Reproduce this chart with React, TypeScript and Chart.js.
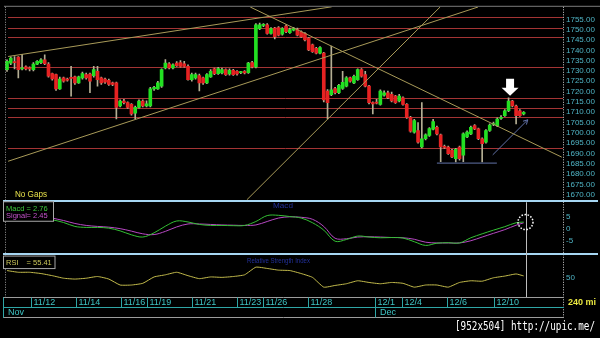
import React, { useEffect, useRef } from "react";
import { Chart, registerables } from "chart.js";
Chart.register(...registerables);

// ---- price data (240-minute bars) ----
const opens = [1730.6,1733.8,1734.5,1736.7,1731.0,1732.0,1731.2,1730.6,1733.3,1734.0,
1735.4,1733.3,1728.7,1728.2,1721.3,1726.6,1726.0,1726.8,1727.1,1724.2,
1726.6,1728.2,1728.5,1727.7,1729.8,1726.6,1726.1,1725.5,1724.2,1724.2,
1713.0,1715.4,1714.6,1713.8,1709.5,1712.3,1715.4,1713.0,1713.0,1721.3,
1721.3,1722.6,1731.4,1733.5,1731.4,1733.8,1734.1,1733.5,1732.2,1725.8,
1726.6,1727.7,1726.6,1724.2,1727.1,1731.0,1728.7,1729.0,1730.6,1728.5,
1730.3,1729.8,1729.2,1729.8,1729.2,1734.1,1731.9,1750.5,1752.1,1752.4,
1748.2,1750.8,1751.0,1747.8,1751.7,1748.5,1749.8,1750.1,1749.0,1748.2,
1745.8,1742.6,1741.0,1738.6,1738.6,1720.2,1718.5,1721.5,1719.4,1721.5,
1722.6,1726.6,1724.2,1725.8,1730.6,1728.2,1722.6,1714.6,1714.8,1713.8,
1718.2,1719.4,1718.6,1717.8,1715.4,1717.0,1713.8,1707.5,1700.3,1701.1,
1693.1,1697.1,1698.7,1701.8,1702.7,1699.0,1693.3,1693.1,1691.5,1687.5,
1693.1,1689.1,1698.0,1699.5,1703.5,1701.9,1697.1,1695.5,1701.1,1704.0,
1703.5,1707.0,1708.3,1710.7,1715.4,1713.0,1710.7,1709.1];
const highs = [1735.4,1736.8,1737.0,1737.0,1738.0,1732.5,1732.0,1734.0,1735.0,1736.0,
1737.8,1734.0,1729.0,1728.5,1727.0,1727.0,1726.5,1732.2,1727.5,1727.5,
1729.5,1729.0,1729.0,1732.2,1732.2,1727.0,1726.5,1726.0,1724.6,1724.6,
1716.0,1716.2,1715.0,1714.2,1713.0,1716.0,1716.0,1715.5,1722.0,1722.5,
1725.0,1731.0,1735.5,1734.0,1733.5,1734.5,1735.0,1734.6,1733.0,1729.0,
1729.0,1728.5,1727.0,1728.7,1730.6,1731.4,1731.8,1731.4,1731.0,1731.0,
1730.8,1730.2,1729.8,1730.2,1734.2,1734.6,1753.0,1753.2,1753.0,1753.0,
1751.0,1751.2,1751.5,1751.0,1752.4,1750.8,1751.2,1750.8,1749.4,1748.6,
1746.2,1743.0,1741.4,1741.8,1739.0,1721.0,1742.0,1722.0,1723.5,1729.8,
1727.2,1727.0,1728.0,1731.0,1731.2,1729.8,1723.0,1715.0,1716.2,1720.8,
1720.4,1720.2,1719.8,1718.2,1718.6,1717.4,1714.2,1708.0,1706.5,1705.0,
1714.6,1699.5,1702.5,1706.5,1703.2,1699.4,1694.0,1693.6,1692.0,1692.5,
1693.6,1700.0,1701.0,1703.2,1704.0,1702.3,1697.5,1701.6,1704.3,1705.2,
1707.2,1708.3,1711.2,1717.0,1715.8,1713.4,1711.2,1710.3];
const lows = [1729.8,1733.0,1731.0,1726.6,1730.5,1730.5,1730.0,1730.0,1733.0,1733.5,
1733.0,1727.0,1725.5,1720.5,1721.0,1724.5,1725.0,1717.8,1723.5,1724.0,
1726.0,1726.0,1719.4,1727.0,1722.6,1723.5,1724.0,1723.0,1722.8,1706.7,
1712.5,1714.0,1711.8,1708.5,1706.7,1712.0,1712.5,1712.5,1712.5,1720.5,
1721.0,1722.0,1731.0,1731.0,1731.0,1732.2,1731.8,1731.8,1725.5,1725.0,
1726.0,1720.3,1723.5,1723.8,1726.8,1728.2,1728.3,1728.5,1727.8,1728.0,
1727.8,1728.0,1728.7,1728.6,1728.8,1731.5,1731.5,1750.0,1751.5,1747.8,
1747.8,1745.5,1747.0,1747.4,1748.5,1748.2,1749.4,1747.0,1746.2,1744.6,
1739.8,1739.0,1738.2,1738.2,1715.0,1706.7,1718.0,1718.8,1719.0,1721.0,
1722.2,1724.5,1723.8,1725.4,1727.0,1722.2,1714.0,1709.1,1714.0,1713.4,
1717.8,1716.6,1715.0,1714.2,1715.0,1713.4,1707.0,1700.3,1699.8,1695.0,
1692.7,1696.5,1698.3,1701.4,1699.0,1686.0,1692.4,1689.5,1687.9,1685.9,
1686.7,1686.0,1697.6,1699.1,1701.5,1696.7,1685.9,1695.0,1700.7,1703.5,
1703.0,1706.5,1707.9,1710.3,1712.6,1704.3,1707.9,1708.7];
const closes = [1734.6,1736.2,1734.0,1730.6,1731.5,1731.0,1731.0,1733.3,1734.6,1735.4,
1733.5,1727.4,1726.1,1721.3,1726.1,1725.0,1725.5,1726.4,1724.2,1727.1,
1728.7,1726.6,1725.0,1730.6,1725.8,1724.2,1724.5,1723.4,1723.4,1712.3,
1715.4,1714.6,1712.3,1709.1,1712.3,1715.4,1713.0,1714.0,1721.3,1722.0,
1724.2,1730.6,1733.8,1731.4,1733.0,1732.6,1732.2,1732.2,1725.8,1728.2,
1728.2,1724.2,1724.2,1728.2,1729.8,1728.7,1731.2,1730.6,1728.2,1730.3,
1728.2,1728.5,1729.4,1729.0,1733.8,1731.9,1752.4,1752.4,1752.3,1748.2,
1750.5,1746.6,1747.4,1750.5,1749.0,1750.1,1750.5,1747.4,1746.6,1745.0,
1740.2,1739.4,1738.6,1741.3,1716.0,1714.6,1720.8,1719.4,1723.0,1724.5,
1726.6,1725.0,1727.4,1730.6,1727.4,1722.6,1714.6,1714.0,1714.4,1720.2,
1719.4,1717.0,1715.4,1714.6,1717.8,1713.8,1707.5,1700.8,1705.9,1695.5,
1697.1,1699.0,1702.0,1705.4,1699.5,1693.1,1692.9,1689.9,1688.3,1692.0,
1687.5,1699.5,1700.3,1702.7,1701.9,1697.1,1694.7,1701.1,1703.8,1704.4,
1706.7,1707.5,1710.7,1715.4,1713.0,1708.3,1708.3,1709.9];

// ---- axis tick labels ----
const priceTicks = [1670,1675,1680,1685,1690,1695,1700,1705,1710,1715,1720,1725,1730,1735,1740,1745,1750,1755];
const macdTicks = [-5, 0, 5];
const rsiTicks = [50];
const dateLabels = ["11/12","11/14","11/16","11/19","11/21","11/23","11/26","11/28","12/1","12/4","12/6","12/10"];
const dateStartBars = [6.4, 18.3, 30.2, 37.1, 49.0, 60.9, 68.0, 79.7, 97.6, 104.7, 116.6, 129.2];
const monthLabels = ["Nov", "Dec"];
const monthStartBars = [-1.05, 97.6];
const intervalLabel = "240 mi";

// ---- drawing objects (bar index, price) ----
const levels = [1756, 1751, 1746.5, 1732, 1717, 1712, 1707.5, 1692.5];
const trendLines = [
  [[0.3, 1737.0], [86.1, 1761.1]],
  [[0.3, 1686.2], [124.9, 1761.0]],
  [[63.6, 1667.5], [114.9, 1761.1]],
  [[64.5, 1761.0], [147.1, 1688.2]],
];
const supportLine = [[114.0, 1685.3], [129.9, 1685.3]];
const upArrowLine = [[128.8, 1689.3], [138.1, 1706.3]];
const signalArrowTip = [133.4, 1718.0];
const cursorBar = 137.5;

// ---- indicators ----
const indBars = [0,3,6,9,12,15,18,21,24,27,30,33,36,39,42,45,48,51,54,57,60,63,66,69,72,75,78,81,84,87,90,93,96,99,102,105,108,111,114,117,120,123,126,129,132,135,137];
const macdVals = [7.0,6.5,5.5,4.6,3.7,2.6,1.0,0.6,0.6,0.3,-0.8,-2.4,-3.3,-1.6,1.1,3.2,2.8,1.8,1.4,1.4,1.3,1.4,3.0,5.4,5.5,5.0,4.4,2.5,-0.5,-5.0,-4.3,-2.9,-3.3,-3.6,-3.5,-3.7,-5.2,-6.7,-5.8,-5.6,-5.7,-3.6,-2.0,-0.5,0.9,2.5,2.76];
const signalVals = [7.5,7.2,6.6,5.8,4.4,3.4,2.2,1.4,1.0,0.7,0.1,-0.9,-2.0,-2.3,-1.0,0.8,2.0,2.0,1.8,1.6,1.5,1.4,1.6,3.0,4.4,4.9,4.7,3.9,1.0,-3.8,-4.0,-3.3,-3.2,-3.3,-3.5,-3.6,-4.2,-5.4,-5.7,-5.7,-5.7,-4.8,-3.3,-1.8,-0.3,1.5,2.45];
const rsiVals = [68,64,64,61,56,50,48,50,54,48,34,34,38,53,58,64,56,49,53,52,54,58,76,73,69,68,61,52,29,33,37,44,40,37,40,38,29,34,34,29,40,44,43,51,55,60,55.41];

const FONT = "'Liberation Sans', Arial, sans-serif";

function txt(ctx: CanvasRenderingContext2D, s: string, x: number, y: number, color: string, size: number, width?: number, bold?: boolean) {
  ctx.save();
  ctx.font = `${bold ? "bold " : ""}${size}px ${FONT}`;
  ctx.fillStyle = color;
  ctx.textBaseline = "middle";
  ctx.textAlign = "left";
  if (width) {
    const w = ctx.measureText(s).width;
    ctx.translate(x, y);
    ctx.scale(width / w, 1);
    ctx.fillText(s, 0, 0);
  } else {
    ctx.fillText(s, x, y);
  }
  ctx.restore();
}

function hline(ctx: CanvasRenderingContext2D, x0: number, x1: number, y: number, color: string, w = 1) {
  ctx.save();
  ctx.strokeStyle = color;
  ctx.lineWidth = w;
  ctx.beginPath();
  ctx.moveTo(x0, y);
  ctx.lineTo(x1, y);
  ctx.stroke();
  ctx.restore();
}
function vline(ctx: CanvasRenderingContext2D, x: number, y0: number, y1: number, color: string, dash?: number[]) {
  ctx.save();
  ctx.strokeStyle = color;
  ctx.lineWidth = 1;
  if (dash) ctx.setLineDash(dash);
  ctx.beginPath();
  ctx.moveTo(x, y0);
  ctx.lineTo(x, y1);
  ctx.stroke();
  ctx.restore();
}

export default function App() {
  const ref = useRef<HTMLCanvasElement>(null);
  useEffect(() => {
    document.body.style.margin = "0";
    document.body.style.background = "#000";
    const canvas = ref.current!;
    const up = "#22e022";
    const down = "#e62222";
    const bodyColors = opens.map((o, i) => (closes[i] >= o ? up : down));
    const trendColor = "#a89a58";
    const blueLine = "#6272a8";

    const overlay = {
      id: "overlay",
      beforeDatasetsDraw(chart: any) {
        const { ctx } = chart;
        const xs = chart.scales.x;
        const ys = chart.scales.y;
        for (const lv of levels) {
          const py = Math.round(ys.getPixelForValue(lv)) + 0.5;
          hline(ctx, xs.left + 3, xs.right - 1, py, "#a43434");
        }
      },
      afterDraw(chart: any) {
        const { ctx } = chart;
        const xs = chart.scales.x;
        const ys = chart.scales.y;
        const ms = chart.scales.macd;
        const rs = chart.scales.rsi;
        const top = ys.top;
        const bot = rs.bottom;
        const right = xs.right;

        // frame
        hline(ctx, 4, 600, top - 0.5, "#7c7c7c");
        vline(ctx, xs.left + 0.5, top, bot, "#9a9a9a", [1, 1.5]);
        vline(ctx, right - 0.5, top, bot + 21, "#cfcfcf", [1, 1.5]);

        // panel separators
        ctx.save();
        ctx.fillStyle = "#a6d6f2";
        ctx.fillRect(3, Math.round(ms.top) - 1, 595, 2);
        ctx.fillRect(3, Math.round(rs.top) - 1, 595, 2);
        ctx.restore();

        // date axis rows
        const r0 = Math.round(bot) + 0.5;
        const r1 = r0 + 10;
        const r2 = r0 + 20;
        hline(ctx, 3, right, r0, "#9c9c9c");
        hline(ctx, 3, right, r1, "#2fa6a6");
        hline(ctx, 3, right, r2, "#9c9c9c");
        vline(ctx, 3.5, r0, r2, "#2fa6a6");
        dateLabels.forEach((lab, k) => {
          const px = Math.round(xs.getPixelForValue(dateStartBars[k])) + 0.5;
          vline(ctx, px, r0, r1, "#2fa6a6");
          txt(ctx, lab, px + 2, r0 + 5.5, "#3ec4c4", 9);
        });
        monthLabels.forEach((lab, k) => {
          const px = Math.round(xs.getPixelForValue(monthStartBars[k])) + 0.5;
          vline(ctx, px, r1, r2, "#2fa6a6");
          txt(ctx, lab, px + 4.5, r1 + 5.5, "#3ec4c4", 9);
        });
        txt(ctx, intervalLabel, right + 4, r0 + 5.5, "#e8e640", 9, undefined, true);

        // texts
        txt(ctx, "No Gaps", 15, ys.bottom - 6.5, "#e6e04a", 9, 32);
        const lastM = macdVals[macdVals.length - 1];
        const lastS = signalVals[signalVals.length - 1];
        const lastR = rsiVals[rsiVals.length - 1];
        ctx.save();
        ctx.fillStyle = "#000";
        ctx.strokeStyle = "#a8a8a8";
        ctx.lineWidth = 1;
        ctx.fillRect(3.5, ms.top + 0.5, 50, 19.5);
        ctx.strokeRect(3.5, ms.top + 0.5, 50, 19.5);
        ctx.fillRect(3.5, rs.top + 2.5, 51.5, 12.5);
        ctx.strokeRect(3.5, rs.top + 2.5, 51.5, 12.5);
        ctx.restore();
        txt(ctx, "Macd", 6, ms.top + 7.5, "#3cc83c", 7.5);
        txt(ctx, "= " + lastM.toFixed(2), 26.5, ms.top + 7.5, "#3cc83c", 7.5);
        txt(ctx, "Signal", 6, ms.top + 14.5, "#c452cc", 7.5);
        txt(ctx, "= " + lastS.toFixed(2), 26.5, ms.top + 14.5, "#c452cc", 7.5);
        txt(ctx, "RSI", 6, rs.top + 9, "#cbc75a", 7.5);
        txt(ctx, "= " + lastR.toFixed(2), 26.5, rs.top + 9, "#cbc75a", 7.5);
        txt(ctx, "Macd", 273, ms.top + 5, "#22309a", 7, 20);
        txt(ctx, "Relative Strength Index", 247, rs.top + 7, "#22309a", 7, 63);

        // cursor + circle
        const cx = Math.round(xs.getPixelForValue(cursorBar)) + 0.5;
        vline(ctx, cx, ms.top + 1, bot, "#bdbdbd");
        ctx.save();
        ctx.strokeStyle = "#ffffff";
        ctx.lineWidth = 1.5;
        ctx.setLineDash([1.5, 1.6]);
        ctx.beginPath();
        ctx.arc(cx - 1, ms.getPixelForValue(lastM), 7.5, 0, Math.PI * 2);
        ctx.stroke();
        ctx.restore();

        // white down arrow
        const ax = xs.getPixelForValue(signalArrowTip[0]);
        const ay = ys.getPixelForValue(signalArrowTip[1]);
        ctx.save();
        ctx.fillStyle = "#ffffff";
        ctx.beginPath();
        ctx.moveTo(ax, ay);
        ctx.lineTo(ax - 8.5, ay - 8);
        ctx.lineTo(ax - 4, ay - 8);
        ctx.lineTo(ax - 4, ay - 17);
        ctx.lineTo(ax + 4, ay - 17);
        ctx.lineTo(ax + 4, ay - 8);
        ctx.lineTo(ax + 8.5, ay - 8);
        ctx.closePath();
        ctx.fill();
        ctx.restore();

        // blue arrowhead
        const p0x = xs.getPixelForValue(upArrowLine[0][0]);
        const p0y = ys.getPixelForValue(upArrowLine[0][1]);
        const p1x = xs.getPixelForValue(upArrowLine[1][0]);
        const p1y = ys.getPixelForValue(upArrowLine[1][1]);
        const ang = Math.atan2(p1y - p0y, p1x - p0x);
        ctx.save();
        ctx.strokeStyle = blueLine;
        ctx.lineWidth = 1;
        ctx.beginPath();
        ctx.moveTo(p1x - 5 * Math.cos(ang - 0.5), p1y - 5 * Math.sin(ang - 0.5));
        ctx.lineTo(p1x, p1y);
        ctx.lineTo(p1x - 5 * Math.cos(ang + 0.5), p1y - 5 * Math.sin(ang + 0.5));
        ctx.stroke();
        ctx.restore();

        // watermark
        ctx.save();
        ctx.fillStyle = "#ffffff";
        ctx.font = "12px 'DejaVu Sans Mono', monospace";
        ctx.textBaseline = "middle";
        const wm = "[952x504] http://upic.me/";
        const ww = ctx.measureText(wm).width;
        ctx.translate(455, 327);
        ctx.scale(140 / ww, 1);
        ctx.fillText(wm, 0, 0);
        ctx.restore();
      },
    };

    const lineDs = (pts: number[][], color: string, axis = "y") => ({
      type: "line" as const,
      data: pts.map((p) => ({ x: p[0], y: p[1] })),
      borderColor: color,
      borderWidth: 1,
      pointRadius: 0,
      yAxisID: axis,
      order: 0,
    });

    const axisTicks = { color: "#4fb3c4", font: { family: FONT, size: 8 }, padding: 2, autoSkip: false };

    const chart = new Chart(canvas, {
      type: "bar",
      data: {
        datasets: [
          {
            type: "bar",
            data: opens.map((_, i) => ({ x: i, y: [lows[i], highs[i]] })) as any,
            backgroundColor: "#b4ae94",
            barThickness: 1,
            grouped: false,
            yAxisID: "y",
            order: 3,
          },
          {
            type: "bar",
            data: opens.map((o, i) => ({ x: i, y: [o, closes[i]] })) as any,
            backgroundColor: bodyColors,
            barThickness: 3,
            minBarLength: 1,
            grouped: false,
            yAxisID: "y",
            order: 2,
          },
          ...trendLines.map((t) => lineDs(t, trendColor)),
          lineDs(supportLine, blueLine),
          lineDs(upArrowLine, blueLine),
          {
            type: "line",
            data: indBars.map((b, k) => ({ x: b, y: signalVals[k] })),
            borderColor: "#b848c4",
            borderWidth: 1,
            pointRadius: 0,
            tension: 0.35,
            yAxisID: "macd",
            order: 1,
          },
          {
            type: "line",
            data: indBars.map((b, k) => ({ x: b, y: macdVals[k] })),
            borderColor: "#34c034",
            borderWidth: 1,
            pointRadius: 0,
            tension: 0.35,
            yAxisID: "macd",
            order: 0,
          },
          {
            type: "line",
            data: indBars.map((b, k) => ({ x: b, y: rsiVals[k] })),
            borderColor: "#c4bc4c",
            borderWidth: 1,
            pointRadius: 0,
            tension: 0.15,
            yAxisID: "rsi",
            order: 0,
          },
        ] as any,
      },
      options: {
        responsive: false,
        animation: false,
        events: [],
        layout: { padding: { left: 5, top: 3, right: 0, bottom: 41 } },
        plugins: { legend: { display: false }, tooltip: { enabled: false } },
        scales: {
          x: { type: "linear", min: -0.53, max: 147.7, display: false, offset: false },
          y: {
            type: "linear",
            position: "right",
            stack: "panes",
            stackWeight: 197,
            weight: 1,
            min: 1666.8,
            max: 1761.1,
            grid: { display: false, drawTicks: false },
            border: { display: false },
            ticks: { ...axisTicks, callback: (v: any) => Number(v).toFixed(2) },
            afterBuildTicks: (s: any) => { s.ticks = priceTicks.map((v) => ({ value: v })); },
            afterFit: (s: any) => { s.width = 36; },
          },
          macd: {
            type: "linear",
            position: "right",
            stack: "panes",
            stackWeight: 53,
            weight: 2,
            min: -10,
            max: 11.2,
            grid: { display: false, drawTicks: false },
            border: { display: false },
            ticks: { ...axisTicks, callback: (v: any) => String(v) },
            afterBuildTicks: (s: any) => { s.ticks = macdTicks.map((v) => ({ value: v })); },
            afterFit: (s: any) => { s.width = 36; },
          },
          rsi: {
            type: "linear",
            position: "right",
            stack: "panes",
            stackWeight: 44,
            weight: 3,
            min: 5.8,
            max: 108,
            grid: { display: false, drawTicks: false },
            border: { display: false },
            ticks: { ...axisTicks, callback: (v: any) => String(v) },
            afterBuildTicks: (s: any) => { s.ticks = rsiTicks.map((v) => ({ value: v })); },
            afterFit: (s: any) => { s.width = 36; },
          },
        } as any,
      },
      plugins: [overlay],
    });
    return () => chart.destroy();
  }, []);
  return (
    <div style={{ width: 600, height: 338, background: "#000", position: "relative" }}>
      <canvas ref={ref} width={600} height={338} style={{ display: "block" }} />
    </div>
  );
}
